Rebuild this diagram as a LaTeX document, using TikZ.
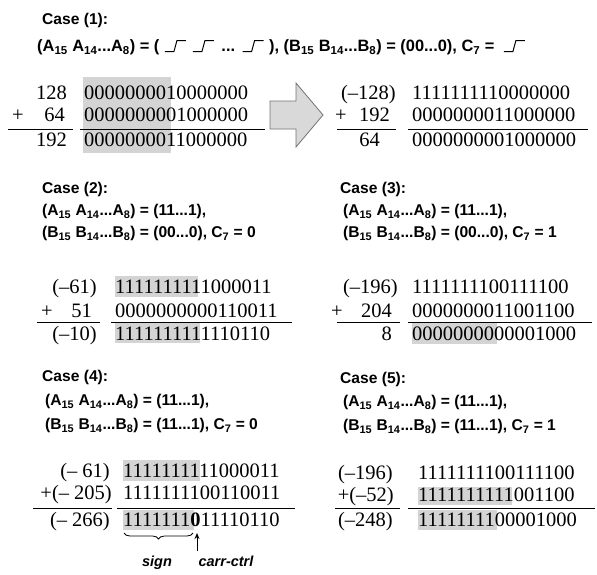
\documentclass[tikz,border=0pt]{standalone}
\usepackage{fontspec}
\setmainfont{Liberation Serif}
\setsansfont{Liberation Sans}
\usetikzlibrary{decorations.pathreplacing,arrows.meta}
\newcommand{\wv}{\tikz[baseline=0pt,x=1pt,y=1pt]\draw[line width=1pt] (0,0)--(9,0)--(12,11)--(21,11);}
\newcommand{\sbs}[1]{\textsubscript{#1}}
\tikzset{
  hd/.style={font=\sffamily\bfseries\fontsize{15.6}{17}\selectfont, inner sep=0pt, anchor=base west},
  num/.style={font=\fontsize{20.5}{22}\selectfont, inner sep=0pt, anchor=base east},
  bin/.style={font=\fontsize{20.5}{22}\selectfont, inner sep=0pt, anchor=base west},
  rulel/.style={line width=0.9pt},
  shd/.style={fill=black!17, draw=none},
  lbl/.style={font=\sffamily\bfseries\itshape\fontsize{14.5}{16}\selectfont, inner sep=0pt, anchor=base},
}
\begin{document}
\begin{tikzpicture}[x=1pt,y=-1pt]
\useasboundingbox (0,0) rectangle (597,574);
% ---------- shading ----------
\fill[shd] (83,77) rectangle (171,153);
\fill[shd] (115,276) rectangle (198,297);
\fill[shd] (115,323) rectangle (200,343);
\fill[shd] (412,323) rectangle (497,344);
\fill[shd] (123,460) rectangle (200,481);
\fill[shd] (123,510) rectangle (194,530);
\fill[shd] (418,487) rectangle (512,505);
\fill[shd] (418,510) rectangle (497,530);
% ---------- Case 1 ----------
\node[hd] (c1) at (42,24.5) {Case (1):};
\node[hd, font=\sffamily\bfseries\fontsize{16.4}{18}\selectfont] (c1a) at (37,51.5) {(A\sbs{15} A\sbs{14}...A\sbs{8}) = (\hspace{5pt}\wv\hspace{6pt}\wv\hspace{7pt}...\hspace{7pt}\wv\hspace{5pt}), (B\sbs{15} B\sbs{14}...B\sbs{8}) = (00...0), C\sbs{7} =\hspace{9pt}\wv};
\node[num] (n11) at (67,99.5) {128};
\node[num] (p12) at (24,121) {+};
\node[num] (n12) at (65,121) {64};
\node[num] (n13) at (67,146.5) {192};
\node[bin] (b11) at (84,99.5) {0000000010000000};
\node[bin] (b12) at (84,121) {0000000001000000};
\node[bin] (b13) at (84,146.5) {0000000011000000};
\draw[rulel] (8,129) -- (73,129);
\draw[rulel] (80,129) -- (265,129);
% big arrow
\draw[fill=black!15, draw=black!55, line width=0.8pt] (270,101) -- (296,101) -- (296,83) -- (323,115) -- (296,147) -- (296,129) -- (270,129) -- cycle;
\node[num] (n14) at (396,99.5) {(–128)};
\node[num] (p15) at (347,121) {+};
\node[num] (n15) at (390,121) {192};
\node[num] (n16) at (380,146.5) {64};
\node[bin] (b14) at (412,99.5) {1111111110000000};
\node[bin] (b15) at (412,121) {0000000011000000};
\node[bin] (b16) at (412,146.5) {0000000001000000};
\draw[rulel] (337,129) -- (396,129);
\draw[rulel] (408,129) -- (588,129);
% ---------- Case 2 ----------
\node[hd] (c2) at (42,193.5) {Case (2):};
\node[hd] (c2a) at (42,215.5) {(A\sbs{15} A\sbs{14}...A\sbs{8}) = (11...1),};
\node[hd] (c2b) at (42,237.5) {(B\sbs{15} B\sbs{14}...B\sbs{8}) = (00...0), C\sbs{7} = 0};
\node[num] (n21) at (97,293.5) {(–61)};
\node[num] (p22) at (53,317.5) {+};
\node[num] (n22) at (92,317.5) {51};
\node[num] (n23) at (97,340) {(–10)};
\node[bin] (b21) at (115,293.5) {1111111111000011};
\node[bin] (b22) at (115,317.5) {0000000000110011};
\node[bin] (b23) at (115,340) {1111111111110110};
\draw[rulel] (37,322) -- (100,322);
\draw[rulel] (111,322) -- (292,322);
% ---------- Case 3 ----------
\node[hd] (c3) at (340,193.5) {Case (3):};
\node[hd] (c3a) at (343,215.5) {(A\sbs{15} A\sbs{14}...A\sbs{8}) = (11...1),};
\node[hd] (c3b) at (343,237.5) {(B\sbs{15} B\sbs{14}...B\sbs{8}) = (00...0), C\sbs{7} = 1};
\node[num] (n31) at (398,293.5) {(–196)};
\node[num] (p32) at (343,317.5) {+};
\node[num] (n32) at (392,317.5) {204};
\node[num] (n33) at (392,340) {8};
\node[bin] (b31) at (412,293.5) {1111111100111100};
\node[bin] (b32) at (412,317.5) {0000000011001100};
\node[bin] (b33) at (412,340) {0000000000001000};
\draw[rulel] (337,322) -- (400,322);
\draw[rulel] (408,322) -- (592,322);
% ---------- Case 4 ----------
\node[hd] (c4) at (42,381.5) {Case (4):};
\node[hd] (c4a) at (45,405.5) {(A\sbs{15} A\sbs{14}...A\sbs{8}) = (11...1),};
\node[hd] (c4b) at (45,429.5) {(B\sbs{15} B\sbs{14}...B\sbs{8}) = (11...1), C\sbs{7} = 0};
\node[num] (n41) at (110,477) {(– 61)};
\node[num] (n42) at (112,499) {+(– 205)};
\node[num] (n43) at (110,526) {(– 266)};
\node[bin] (b41) at (123,477) {1111111111000011};
\node[bin] (b42) at (123,499) {1111111100110011};
\node[bin] (b43) at (123,526) {1111111\textbf{0}11110110};
\draw[rulel] (33,508) -- (112,508);
\draw[rulel] (117,508) -- (295,508);
\draw[decorate, decoration={brace, mirror, amplitude=6pt}, line width=0.8pt] (124,533) -- (193,533);
\node[lbl] (sg) at (157,566) {sign};
\node[lbl] (cc) at (226,566) {carr-ctrl};
\coordinate (ccb) at (197,551);
\coordinate (cct) at (197,533);
\draw[line width=0.9pt, -{Stealth[length=6pt,width=5pt]}] (ccb) -- (cct);
% ---------- Case 5 ----------
\node[hd] (c5) at (340,383.5) {Case (5):};
\node[hd] (c5a) at (343,406.5) {(A\sbs{15} A\sbs{14}...A\sbs{8}) = (11...1),};
\node[hd] (c5b) at (343,430.5) {(B\sbs{15} B\sbs{14}...B\sbs{8}) = (11...1), C\sbs{7} = 1};
\node[num] (n51) at (393,479) {(–196)};
\node[num] (n52) at (394,501) {+(–52)};
\node[num] (n53) at (393,526) {(–248)};
\node[bin] (b51) at (418,479) {1111111100111100};
\node[bin] (b52) at (418,501) {1111111111001100};
\node[bin] (b53) at (418,526) {1111111100001000};
\draw[rulel] (335,508) -- (400,508);
\draw[rulel] (408,508) -- (595,508);
\end{tikzpicture}
\end{document}
